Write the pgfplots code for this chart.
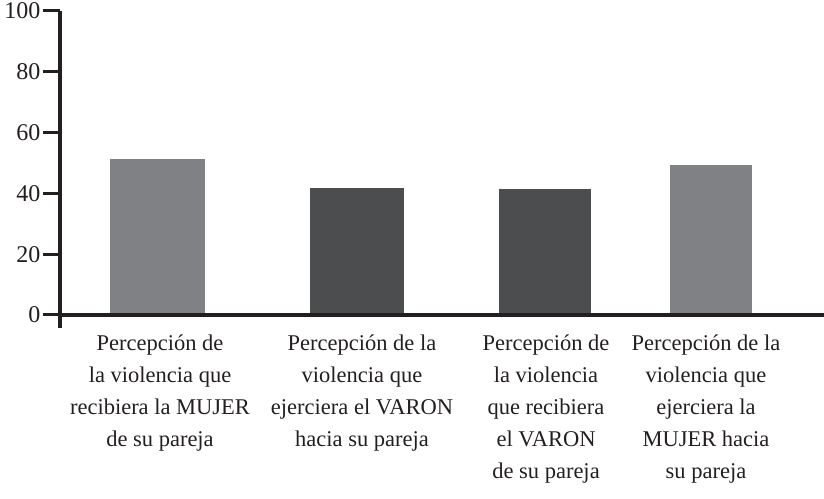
\documentclass[border=0pt]{standalone}
\usepackage{pgfplots}
\pgfplotsset{compat=1.18}
\usepackage{fontspec}
\setmainfont{Liberation Serif}
\definecolor{barlight}{HTML}{808184}
\definecolor{bardark}{HTML}{4C4D4F}
\definecolor{axcol}{HTML}{231F20}
\begin{document}
\begin{tikzpicture}
\begin{axis}[
  scale only axis,
  width=764pt, height=304pt,
  xmin=60, xmax=824, ymin=0, ymax=100,
  enlargelimits=false,
  clip=false,
  axis lines=left,
  axis line style={-, line width=3.2pt, axcol},
  ytick={0,20,40,60,80,100},
  tick align=outside,
  major tick length=17pt,
  ytick style={line width=3pt, axcol},
  xtick={160,362,546,706},
  xtick style={draw=none},
  xticklabels={
    {Percepción de\\la violencia que\\recibiera la MUJER\\de su pareja},
    {Percepción de la\\violencia que\\ejerciera el VARON\\hacia su pareja},
    {Percepción de\\la violencia\\que recibiera\\el VARON\\de su pareja},
    {Percepción de la\\violencia que\\ejerciera la\\MUJER hacia\\su pareja}},
  xticklabel style={align=center, font=\fontsize{22.5}{32}\selectfont, anchor=north, yshift=1pt, text=axcol},
  yticklabel style={font=\fontsize{24}{24}\selectfont, text=axcol, xshift=1pt},
  /pgf/number format/assume math mode=true,
  axis on top,
]
\addplot[ybar, bar width=95, bar shift=0pt, fill=barlight, draw=none] coordinates {(157.5,51.3)};
\addplot[ybar, bar width=94, bar shift=0pt, fill=bardark, draw=none] coordinates {(357,41.8)};
\addplot[ybar, bar width=92, bar shift=0pt, fill=bardark, draw=none] coordinates {(545,41.4)};
\addplot[ybar, bar width=82, bar shift=0pt, fill=barlight, draw=none] coordinates {(711,49.3)};
\draw[line width=3.2pt, axcol] (axis cs:60,0) -- ([yshift=-13pt]axis cs:60,0);
\coordinate (BL) at (axis cs:0,-60.5);
\coordinate (TR) at (axis cs:824,103.6);
\end{axis}
\pgfresetboundingbox
\useasboundingbox (BL) rectangle (TR);
\end{tikzpicture}
\end{document}
